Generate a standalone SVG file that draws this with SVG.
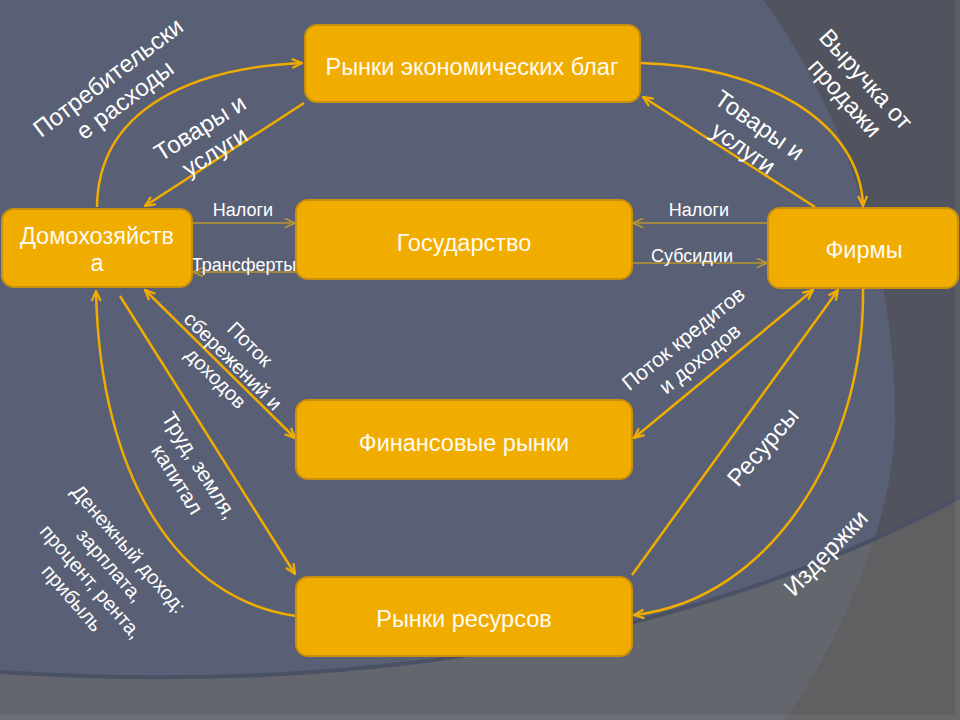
<svg xmlns="http://www.w3.org/2000/svg" width="960" height="720" viewBox="0 0 960 720">
<style>
.node rect{fill:#f0ad00;stroke:#c8900c;stroke-width:2}
.node text{font-family:"Liberation Sans",Arial,sans-serif;font-size:23.5px;fill:#fffaf0;text-anchor:middle}
.lbl{font-family:"Liberation Sans",Arial,sans-serif;fill:#ffffff;text-anchor:middle}
.big{font-size:24px}
.small{font-size:18px}
.c{fill:none;stroke:#f0ad00;stroke-width:2.5}
.t{fill:none;stroke:#b89630;stroke-width:1.6}
</style>
<defs>
<marker id="ah" viewBox="0 0 12 12" refX="11" refY="6" markerWidth="12" markerHeight="12" markerUnits="userSpaceOnUse" orient="auto-start-reverse">
<path d="M1,1.5 L11,6 L1,10.5" fill="none" stroke="#f0ad00" stroke-width="2.2"/>
</marker>
<marker id="at" viewBox="0 0 12 12" refX="11" refY="6" markerWidth="12" markerHeight="12" markerUnits="userSpaceOnUse" orient="auto-start-reverse">
<path d="M1,1.5 L11,6 L1,10.5" fill="none" stroke="#b89630" stroke-width="1.6"/>
</marker>
</defs>
<g id="background">
<rect x="0" y="0" width="960" height="720" fill="#596075"/>
<path d="M763,0 C830,90 895,240 895,420 C895,520 840,640 785,720 L960,720 L960,0 Z" fill="#51545e"/>
<path d="M0,672 C200,685 600,690 960,497 L960,720 L0,720 Z" fill="#6f6b68" fill-opacity="0.5"/>
<path d="M0,672 C200,685 600,690 960,497" fill="none" stroke="#4b5164" stroke-width="4"/>
<rect x="955" y="0" width="5" height="720" fill="#ffffff" fill-opacity="0.06"/>
<rect x="0" y="715" width="955" height="5" fill="#ffffff" fill-opacity="0.06"/>
</g>
<g id="connectors">
<path class="c" d="M97,207 C98,110 190,68 302,63" marker-end="url(#ah)"/>
<path class="c" d="M304,103 L145,206" marker-end="url(#ah)"/>
<path class="c" d="M641,63 C760,66 860,120 863,206" marker-end="url(#ah)"/>
<path class="c" d="M815,207 L643,97" marker-end="url(#ah)"/>
<path class="t" d="M186,223 L295,223" marker-end="url(#at)"/>
<path class="t" d="M296,272 L193,272" marker-end="url(#at)"/>
<path class="t" d="M768,223 L633,223" marker-end="url(#at)"/>
<path class="t" d="M632,263 L767,263" marker-end="url(#at)"/>
<path class="c" d="M145,290 L295,438" marker-start="url(#ah)" marker-end="url(#ah)"/>
<path class="c" d="M813,290 L634,438" marker-start="url(#ah)" marker-end="url(#ah)"/>
<path class="c" d="M632,575 L838,290" marker-end="url(#ah)"/>
<path class="c" d="M863,289 C865,450 770,600 634,615" marker-end="url(#ah)"/>
<path class="c" d="M120,296 L295,574" marker-end="url(#ah)"/>
<path class="c" d="M296,616 C180,600 100,480 96,291" marker-end="url(#ah)"/>
</g>
<g id="labels">
<text class="lbl big" transform="translate(116,88) rotate(-37)"><tspan x="0" y="-5">Потребительски</tspan><tspan x="0" y="23">е расходы</tspan></text>
<text class="lbl big" transform="translate(207,139) rotate(-32)"><tspan x="0" y="-5">Товары и</tspan><tspan x="0" y="23">услуги</tspan></text>
<text class="lbl big" transform="translate(752,136) rotate(35)"><tspan x="0" y="-5">Товары и</tspan><tspan x="0" y="23">услуги</tspan></text>
<text class="lbl big" transform="translate(856,88) rotate(48)"><tspan x="0" y="-5">Выручка от</tspan><tspan x="0" y="23">продажи</tspan></text>
<text class="lbl small" x="243" y="216">Налоги</text>
<text class="lbl small" x="244" y="271">Трансферты</text>
<text class="lbl small" x="699" y="216">Налоги</text>
<text class="lbl small" x="692" y="262">Субсидии</text>
<text class="lbl" font-size="20" transform="translate(233,361) rotate(45)"><tspan x="0" y="-17">Поток</tspan><tspan x="0" y="7">сбережений и</tspan><tspan x="0" y="31">доходов</tspan></text>
<text class="lbl" font-size="21" transform="translate(691,348) rotate(-39)"><tspan x="0" y="-5">Поток кредитов</tspan><tspan x="0" y="21">и доходов</tspan></text>
<text class="lbl big" transform="translate(763,447) rotate(-49)" y="8">Ресурсы</text>
<text class="lbl big" transform="translate(826,553) rotate(-46)" y="8">Издержки</text>
<text class="lbl" font-size="21" transform="translate(189,472) rotate(58)"><tspan x="0" y="-5">Труд, земля,</tspan><tspan x="0" y="21">капитал</tspan></text>
<text class="lbl" font-size="20" transform="translate(101,573) rotate(49)"><tspan x="0" y="-30">Денежный доход:</tspan><tspan x="0" y="-5">зарплата,</tspan><tspan x="0" y="20">процент, рента,</tspan><tspan x="0" y="45">прибыль</tspan></text>
</g>
<g id="n-goods" class="node"><rect x="305" y="25" width="335" height="77" rx="12"/><text x="472" y="75">Рынки экономических благ</text></g>
<g id="n-households" class="node"><rect x="2" y="209" width="190" height="78" rx="12"/><text x="97"><tspan x="97" y="244">Домохозяйств</tspan><tspan x="97" y="271">а</tspan></text></g>
<g id="n-state" class="node"><rect x="296" y="200" width="336" height="79" rx="12"/><text x="464" y="251">Государство</text></g>
<g id="n-firms" class="node"><rect x="768" y="208" width="190" height="80" rx="12"/><text x="864" y="258">Фирмы</text></g>
<g id="n-finance" class="node"><rect x="296" y="400" width="336" height="79" rx="12"/><text x="464" y="451">Финансовые рынки</text></g>
<g id="n-resources" class="node"><rect x="296" y="577" width="336" height="79" rx="12"/><text x="464" y="627">Рынки ресурсов</text></g>
</svg>
